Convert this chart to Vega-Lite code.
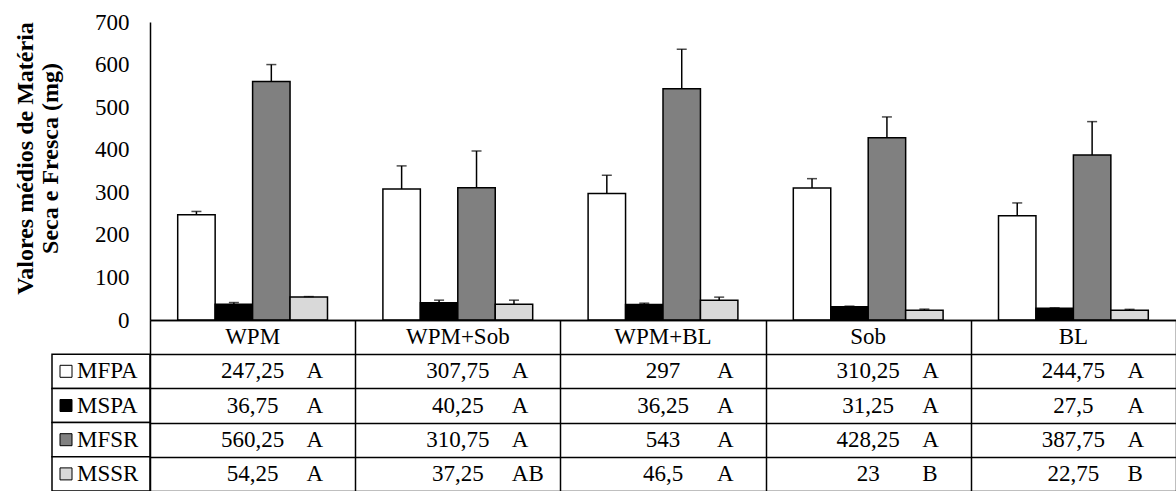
{
  "$schema": "https://vega.github.io/schema/vega-lite/v6.json",
  "background": "white",
  "padding": {"left": 13, "top": 11, "right": 0, "bottom": 0},
  "autosize": {"type": "pad"},
  "config": {
    "view": {"stroke": null},
    "font": "Liberation Serif, Times New Roman, serif",
    "locale": {"number": {"decimal": ",", "thousands": ".", "grouping": [3], "currency": ["", ""]}}
  },
  "datasets": {
    "medidas": [
      {"trat": "WPM", "var": "MFPA", "valor": 247.25, "sup": 255, "letra": "A"},
      {"trat": "WPM", "var": "MSPA", "valor": 36.75, "sup": 41, "letra": "A"},
      {"trat": "WPM", "var": "MFSR", "valor": 560.25, "sup": 600, "letra": "A"},
      {"trat": "WPM", "var": "MSSR", "valor": 54.25, "sup": 55, "letra": "A"},
      {"trat": "WPM+Sob", "var": "MFPA", "valor": 307.75, "sup": 362, "letra": "A"},
      {"trat": "WPM+Sob", "var": "MSPA", "valor": 40.25, "sup": 46.6, "letra": "A"},
      {"trat": "WPM+Sob", "var": "MFSR", "valor": 310.75, "sup": 397, "letra": "A"},
      {"trat": "WPM+Sob", "var": "MSSR", "valor": 37.25, "sup": 46.6, "letra": "AB"},
      {"trat": "WPM+BL", "var": "MFPA", "valor": 297, "sup": 340, "letra": "A"},
      {"trat": "WPM+BL", "var": "MSPA", "valor": 36.25, "sup": 39.5, "letra": "A"},
      {"trat": "WPM+BL", "var": "MFSR", "valor": 543, "sup": 636, "letra": "A"},
      {"trat": "WPM+BL", "var": "MSSR", "valor": 46.5, "sup": 53.7, "letra": "A"},
      {"trat": "Sob", "var": "MFPA", "valor": 310.25, "sup": 332, "letra": "A"},
      {"trat": "Sob", "var": "MSPA", "valor": 31.25, "sup": 32.5, "letra": "A"},
      {"trat": "Sob", "var": "MFSR", "valor": 428.25, "sup": 477, "letra": "A"},
      {"trat": "Sob", "var": "MSSR", "valor": 23, "sup": 25.5, "letra": "B"},
      {"trat": "BL", "var": "MFPA", "valor": 244.75, "sup": 275, "letra": "A"},
      {"trat": "BL", "var": "MSPA", "valor": 27.5, "sup": 28.5, "letra": "A"},
      {"trat": "BL", "var": "MFSR", "valor": 387.75, "sup": 466, "letra": "A"},
      {"trat": "BL", "var": "MSSR", "valor": 22.75, "sup": 25, "letra": "B"}
    ],
    "tratamentos": [
      {"trat": "WPM"}, {"trat": "WPM+Sob"}, {"trat": "WPM+BL"}, {"trat": "Sob"}, {"trat": "BL"}
    ],
    "variaveis": [
      {"var": "MFPA"}, {"var": "MSPA"}, {"var": "MFSR"}, {"var": "MSSR"}
    ]
  },
  "columns": 2,
  "spacing": 0,
  "bounds": "flush",
  "concat": [
    {
      "width": 98,
      "height": 298,
      "data": {"values": [{}]},
      "mark": {"type": "text", "text": ""},
      "encoding": {}
    },
    {
      "width": 1026,
      "height": 298,
      "data": {"name": "medidas"},
      "encoding": {
        "x": {
          "field": "trat", "type": "nominal",
          "sort": ["WPM", "WPM+Sob", "WPM+BL", "Sob", "BL"],
          "scale": {"paddingInner": 0.27, "paddingOuter": 0.135},
          "axis": {"title": null, "labels": false, "ticks": false, "domainColor": "black", "domainWidth": 1.5}
        },
        "xOffset": {
          "field": "var", "type": "nominal",
          "sort": ["MFPA", "MSPA", "MFSR", "MSSR"],
          "scale": {"paddingInner": 0, "paddingOuter": 0}
        }
      },
      "layer": [
        {
          "mark": {"type": "bar", "stroke": "black", "strokeWidth": 1.5},
          "encoding": {
            "y": {
              "field": "valor", "type": "quantitative",
              "scale": {"domain": [0, 700], "nice": false},
              "axis": {
                "title": ["Valores médios de Matéria", "Seca e  Fresca (mg)"],
                "titleFont": "Liberation Serif, Times New Roman, serif", "titleFontSize": 24, "titleFontWeight": "bold",
                "titleColor": "black", "titleLineHeight": 25, "titlePadding": 32, "titleY": 136,
                "values": [0, 100, 200, 300, 400, 500, 600, 700],
                "grid": false, "ticks": false, "tickSize": 0,
                "labelFont": "Liberation Serif, Times New Roman, serif", "labelFontSize": 23, "labelColor": "black",
                "labelPadding": 21, "labelFlush": false,
                "domainColor": "black", "domainWidth": 1.5
              }
            },
            "fill": {
              "field": "var", "type": "nominal",
              "scale": {"domain": ["MFPA", "MSPA", "MFSR", "MSSR"], "range": ["#ffffff", "#000000", "#808080", "#d9d9d9"]},
              "legend": null
            }
          }
        },
        {
          "mark": {"type": "rule", "color": "black", "strokeWidth": 1.5},
          "encoding": {
            "y": {"field": "valor", "type": "quantitative"},
            "y2": {"field": "sup"}
          }
        },
        {
          "mark": {"type": "tick", "orient": "horizontal", "color": "black", "size": 10, "thickness": 1.5},
          "encoding": {
            "y": {"field": "sup", "type": "quantitative"}
          }
        }
      ]
    },
    {
      "width": 98,
      "height": 171,
      "data": {"name": "variaveis"},
      "encoding": {
        "y": {
          "field": "var", "type": "nominal",
          "scale": {"domain": ["trat", "MFPA", "MSPA", "MFSR", "MSSR"], "paddingInner": 0, "paddingOuter": 0},
          "axis": null
        }
      },
      "layer": [
        {
          "mark": {"type": "rect", "fill": "white", "stroke": "black", "strokeWidth": 1.5},
          "encoding": {
            "x": {"datum": "legenda", "type": "nominal", "scale": {"paddingInner": 0, "paddingOuter": 0}, "axis": null}
          }
        },
        {
          "mark": {"type": "square", "size": 144, "stroke": "black", "strokeWidth": 1, "opacity": 1, "xOffset": 14},
          "encoding": {
            "x": {"datum": "legenda", "type": "nominal", "bandPosition": 0},
            "fill": {
              "field": "var", "type": "nominal",
              "scale": {"domain": ["MFPA", "MSPA", "MFSR", "MSSR"], "range": ["#ffffff", "#000000", "#808080", "#d9d9d9"]},
              "legend": null
            }
          }
        },
        {
          "mark": {"type": "text", "align": "left", "baseline": "middle", "dx": 25, "fontSize": 23, "font": "Liberation Serif, Times New Roman, serif", "color": "black"},
          "encoding": {
            "x": {"datum": "legenda", "type": "nominal", "bandPosition": 0},
            "text": {"field": "var"}
          }
        }
      ]
    },
    {
      "width": 1026,
      "height": 171,
      "encoding": {
        "x": {
          "field": "trat", "type": "nominal",
          "sort": ["WPM", "WPM+Sob", "WPM+BL", "Sob", "BL"],
          "scale": {"paddingInner": 0, "paddingOuter": 0},
          "axis": {"title": null, "labels": false, "ticks": false, "domain": false, "grid": true, "gridColor": "black", "gridWidth": 1.5, "gridOpacity": 1, "tickBand": "extent"}
        },
        "y": {
          "field": "var", "type": "nominal",
          "scale": {"domain": ["trat", "MFPA", "MSPA", "MFSR", "MSSR"], "paddingInner": 0, "paddingOuter": 0},
          "axis": {"title": null, "labels": false, "ticks": false, "domain": false, "grid": true, "gridColor": "black", "gridWidth": 1.5, "gridOpacity": 1, "tickBand": "extent"}
        }
      },
      "layer": [
        {
          "data": {"name": "tratamentos"},
          "mark": {"type": "text", "fontSize": 23, "font": "Liberation Serif, Times New Roman, serif", "color": "black", "baseline": "middle"},
          "encoding": {
            "y": {"datum": "trat"},
            "text": {"field": "trat"}
          }
        },
        {
          "data": {"name": "medidas"},
          "mark": {"type": "text", "fontSize": 23, "font": "Liberation Serif, Times New Roman, serif", "color": "black", "baseline": "middle"},
          "encoding": {
            "text": {"field": "valor", "type": "quantitative", "format": "~r"}
          }
        },
        {
          "data": {"name": "medidas"},
          "mark": {"type": "text", "fontSize": 23, "font": "Liberation Serif, Times New Roman, serif", "color": "black", "baseline": "middle", "align": "left", "dx": 54},
          "encoding": {
            "text": {"field": "letra"}
          }
        }
      ]
    }
  ]
}
